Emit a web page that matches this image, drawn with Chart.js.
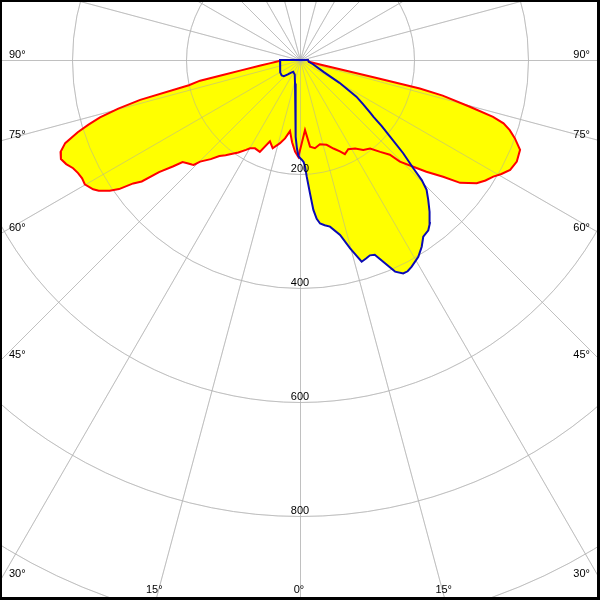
<!DOCTYPE html>
<html>
<head>
<meta charset="utf-8">
<script src="https://cdn.jsdelivr.net/npm/chart.js@4.4.0/dist/chart.umd.min.js"></script>
<style>
  html, body { margin: 0; padding: 0; background: #fff; }
</style>
</head>
<body>
<canvas id="polarChart" width="600" height="600"></canvas>
<script>
// luminous intensity (cd) per gamma angle, C0-C180 plane (red)
const redAngles = [-180, -90, -88, -86, -84, -82, -80, -79, -78.3, -77.2, -76, -75, -74, -73, -72, -70.5,
  -69, -67.5, -66, -64.5, -63, -61.5, -60, -58, -57, -55.5, -54.5, -53.5, -52.5, -51.5, -50, -49,
  -47.5, -46, -45.4, -44.5, -42, -40, -38, -36.6, -33.7, -31, -29.5, -27, -23.6, -20.3, -17.2, -13.5,
  -10.8, -8, -5.5, -3.1, -1, 1.2, 4.1, 6.6, 9.6, 13.3, 17.4, 20.7, 23.6, 25.5, 28.4, 31.9, 35.1,
  38.4, 41.1, 43.5, 44.5, 46.7, 48.5, 50.8, 52.5, 55.1, 57, 58.9, 60.5, 62.4, 64.9, 67.8, 70, 71.5,
  72.7, 73.6, 74.6, 76, 76.6, 76.8, 77, 77.4, 78.4, 90, 180];
const redValues = [0, 35, 35, 42, 52, 70, 105, 138, 179, 200, 289, 330, 365, 388, 410, 437,
  450, 454, 449, 441, 437, 435, 436, 428, 421, 405, 390, 364, 350, 316, 290, 273,
  268, 264, 262, 250, 234, 220, 212, 206, 195, 184, 178, 174, 176, 152, 162, 150,
  140, 126, 145, 161, 170, 146, 123, 153, 157, 152, 156, 166, 175, 183, 178, 183, 193,
  198, 214, 229, 250, 273, 296, 324, 354, 378, 388, 396, 406, 416, 420, 417, 401, 388,
  374, 353, 309, 258, 216, 140, 72, 36, 16, 14, 0];

// C90-C270 plane (blue)
const blueAngles = [-180, -90, -70, -58, -50, -45, -40, -35, -30, -20, -12, -7, -5, -4, -3, -2, -1,
  0, 1, 2, 2.7, 3.3, 4.3, 5.1, 6, 7, 8.5, 10.2, 12.9, 14.9, 17, 18.4, 19.7, 21, 22.4, 24.2, 25.8,
  27, 28.4, 31, 33.1, 34.9, 37, 38.5, 40.5, 42.5, 44.3, 45.4, 46.3, 47.9, 49.6, 51, 52.3, 53, 55,
  57, 60, 63, 67, 72, 78, 90, 180];
const blueValues = [0, 35, 37, 41, 42, 40, 33, 27, 24, 27, 42, 71, 86, 105, 135, 155, 168,
  172, 175, 179, 187, 205, 235, 264, 280, 289, 293, 297, 315, 342, 370, 367, 364, 366, 383, 407, 416,
  416, 412, 403, 391, 378, 374, 366, 350, 333, 318, 300, 275, 244, 207, 185, 163, 155, 135,
  118, 80, 47, 33, 24, 16, 14, 0];

const ringTicks = [200, 400, 600, 800];
const angleTicks = [0, 15, 30, 45, 60, 75, 90];

// 0.57 px per cd, pole at (300, 60)
const pxPerCd = 0.57;

function toPoints(angles, values) {
    return angles.map(function (a, i) {
        const t = a * Math.PI / 180;
        return { x: values[i] * Math.sin(t), y: -values[i] * Math.cos(t) };
    });
}

function drawGrid(chart, color) {
    const ctx = chart.ctx;
    const cx = chart.scales.x.getPixelForValue(0);
    const cy = chart.scales.y.getPixelForValue(0);
    const unit = chart.scales.x.getPixelForValue(100) - cx;
    ctx.save();
    ctx.translate(0.5, 0.5);
    ctx.strokeStyle = color;
    ctx.lineWidth = 1;
    for (let v = 200; v <= 1200; v += 200) {
        ctx.beginPath();
        ctx.arc(cx, cy, v * unit / 100, 0, Math.PI * 2);
        ctx.stroke();
    }
    for (let a = 0; a < 360; a += 15) {
        const t = a * Math.PI / 180;
        ctx.beginPath();
        ctx.moveTo(cx, cy);
        ctx.lineTo(cx + 1200 * Math.sin(t), cy + 1200 * Math.cos(t));
        ctx.stroke();
    }
    ctx.restore();
}

let fillsDrawn = 0;

const polarGrid = {
    id: 'polarGrid',
    beforeDraw(chart) {
        fillsDrawn = 0;
        drawGrid(chart, '#d6d6d6');
    },
    afterDatasetDraw(chart, args) {
        // when both yellow areas are down, lay the grid over them, under the outlines
        if (chart.data.datasets[args.index].fill === 'shape') {
            fillsDrawn++;
            if (fillsDrawn === 2) {
                drawGrid(chart, 'rgba(170,170,170,0.5)');
            }
        }
    },
    afterDraw(chart) {
        const ctx = chart.ctx;
        const w = chart.width, h = chart.height;
        const cx = chart.scales.x.getPixelForValue(0);
        const cy = chart.scales.y.getPixelForValue(0);
        const unit = chart.scales.x.getPixelForValue(100) - cx;
        ctx.save();
        ctx.font = '11px "Liberation Sans", Arial, sans-serif';
        ctx.fillStyle = '#000';
        ctx.textBaseline = 'alphabetic';

        ctx.textAlign = 'center';
        ringTicks.forEach(function (v) {
            ctx.fillText(String(v), cx, cy + v * unit / 100 - 2);
        });

        angleTicks.forEach(function (a) {
            const t = a * Math.PI / 180;
            const sides = a === 0 ? [1] : [-1, 1];
            sides.forEach(function (s) {
                const tSide = Math.sin(t) > 0 ? (w / 2) / Math.sin(t) : Infinity;
                const tBottom = Math.cos(t) > 0 ? (h - cy) / Math.cos(t) : Infinity;
                if (tSide <= tBottom) {
                    const y = cy + tSide * Math.cos(t) - 2.5;
                    ctx.textAlign = s < 0 ? 'left' : 'right';
                    ctx.fillText(a + '°', s < 0 ? 9 : w - 10, y);
                } else {
                    ctx.textAlign = 'center';
                    ctx.fillText(a + '°', cx + s * tBottom * Math.sin(t) - 1, h - 7);
                }
            });
        });

        // frame
        ctx.fillStyle = '#000';
        ctx.fillRect(0, 0, w, 2);
        ctx.fillRect(0, 0, 2, h);
        ctx.fillRect(w - 3, 0, 3, h);
        ctx.fillRect(0, h - 3, w, 3);
        ctx.restore();
    }
};

const redPoints = toPoints(redAngles, redValues);
const bluePoints = toPoints(blueAngles, blueValues);

const config = {
    type: 'scatter',
    data: {
        datasets: [{
            label: 'C90-C270',
            data: bluePoints,
            showLine: true,
            fill: false,
            borderColor: '#0a0ab4',
            borderWidth: 2,
            pointRadius: 0,
            tension: 0,
            order: 0
        }, {
            label: 'C0-C180',
            data: redPoints,
            showLine: true,
            fill: false,
            borderColor: '#ff0000',
            borderWidth: 2,
            pointRadius: 0,
            tension: 0,
            order: 1
        }, {
            label: 'C90-C270 area',
            data: bluePoints,
            showLine: true,
            fill: 'shape',
            backgroundColor: '#ffff00',
            borderColor: 'rgba(0,0,0,0)',
            borderWidth: 0,
            pointRadius: 0,
            tension: 0,
            order: 2
        }, {
            label: 'C0-C180 area',
            data: redPoints,
            showLine: true,
            fill: 'shape',
            backgroundColor: '#ffff00',
            borderColor: 'rgba(0,0,0,0)',
            borderWidth: 0,
            pointRadius: 0,
            tension: 0,
            order: 2
        }]
    },
    plugins: [polarGrid],
    options: {
        responsive: false,
        animation: false,
        devicePixelRatio: 1,
        events: [],
        layout: { padding: 0 },
        scales: {
            x: { type: 'linear', display: false, min: -300 / pxPerCd, max: 300 / pxPerCd },
            y: { type: 'linear', display: false, min: -540 / pxPerCd, max: 60 / pxPerCd }
        },
        plugins: {
            legend: { display: false },
            tooltip: { enabled: false }
        }
    }
};

new Chart(document.getElementById('polarChart'), config);
</script>
</body>
</html>
